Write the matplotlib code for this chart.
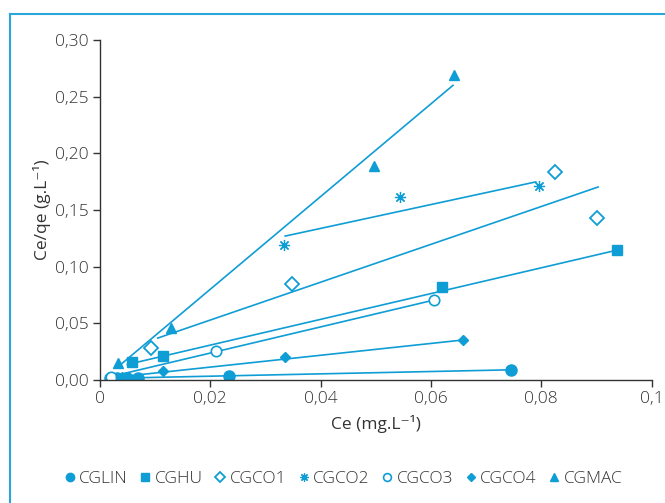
import numpy as np
import matplotlib.pyplot as plt
from matplotlib.lines import Line2D
from matplotlib.ticker import FuncFormatter

plt.rcParams['font.family'] = ['Open Sans', 'DejaVu Sans']
plt.rcParams['font.weight'] = 'light'

BLUE = '#0f9dd5'

# measured points (Ce, Ce/qe)
lin_x = [0.0018, 0.0031, 0.0049, 0.0069, 0.0234, 0.0745]
lin_y = [0.0020, 0.0020, 0.0020, 0.0022, 0.0035, 0.0088]
hu_x = [0.0058, 0.0115, 0.0620, 0.0938]
hu_y = [0.0160, 0.0212, 0.0823, 0.1147]
co1_x = [0.0093, 0.0349, 0.0825, 0.0901]
co1_y = [0.0285, 0.0847, 0.1836, 0.1430]
co2_x = [0.0334, 0.0544, 0.0796]
co2_y = [0.1190, 0.1615, 0.1710]
co3_x = [0.0020, 0.0210, 0.0606]
co3_y = [0.0026, 0.0256, 0.0706]
co4_x = [0.0040, 0.0114, 0.0336, 0.0658]
co4_y = [0.0030, 0.0079, 0.0203, 0.0353]
mac_x = [0.0033, 0.0129, 0.0496, 0.0642]
mac_y = [0.0150, 0.0460, 0.1890, 0.2690]

# fitted lines (start, end)
fit_lin = ([0.0020, 0.0745], [0.0015, 0.0090])
fit_hu = ([0.0050, 0.0938], [0.0137, 0.1147])
fit_co1 = ([0.0105, 0.0903], [0.0370, 0.1703])
fit_co2 = ([0.0336, 0.0790], [0.1270, 0.1748])
fit_co3 = ([0.0020, 0.0606], [0.0030, 0.0706])
fit_co4 = ([0.0030, 0.0658], [0.0025, 0.0353])
fit_mac = ([0.0040, 0.0640], [0.0145, 0.2600])

series = [
    ('CGLIN', lin_x, lin_y, fit_lin, dict(marker='o', ms=8)),
    ('CGHU', hu_x, hu_y, fit_hu, dict(marker='s', ms=7.5)),
    ('CGCO1', co1_x, co1_y, fit_co1, dict(marker='D', ms=7, mfc='white', mew=1.3)),
    ('CGCO2', co2_x, co2_y, fit_co2, dict(marker=(8, 2, 0), ms=8, mew=0.9)),
    ('CGCO3', co3_x, co3_y, fit_co3, dict(marker='o', ms=7.5, mfc='white', mew=1.2)),
    ('CGCO4', co4_x, co4_y, fit_co4, dict(marker='D', ms=5.5)),
    ('CGMAC', mac_x, mac_y, fit_mac, dict(marker='^', ms=7.5)),
]

fig = plt.figure(figsize=(6.65, 5.03), dpi=100)
ax = fig.add_axes([0.150, 0.2445, 0.830, 0.676])

handles = []
for name, x, y, fit, style in series:
    ax.plot(fit[0], fit[1], color=BLUE, lw=1.2)
    ax.plot(x, y, ls='none', color=BLUE, mec=BLUE, **style)
    hs = dict(style)
    hs['ms'] = style['ms'] * 0.75
    handles.append(Line2D([], [], ls='none', color=BLUE, mec=BLUE, label=name, **hs))

ax.set_xlim(0, 0.1)
ax.set_ylim(0, 0.30)
ax.set_xticks([0, 0.02, 0.04, 0.06, 0.08, 0.1])
ax.set_yticks(np.arange(0, 0.301, 0.05))


def xfmt(v, pos):
    if abs(v) < 1e-9:
        return '0'
    if abs(v - 0.1) < 1e-9:
        return '0,1'
    return ('%.2f' % v).replace('.', ',')


ax.xaxis.set_major_formatter(FuncFormatter(xfmt))
ax.yaxis.set_major_formatter(FuncFormatter(lambda v, p: ('%.2f' % v).replace('.', ',')))
ax.spines['top'].set_visible(False)
ax.spines['right'].set_visible(False)
for s in ('left', 'bottom'):
    ax.spines[s].set_color('#333333')
    ax.spines[s].set_linewidth(1.0)
ax.tick_params(direction='out', length=5, width=1.0, color='#333333',
               labelsize=12.5, labelcolor='#333333', pad=3)
ax.set_xlabel('Ce (mg.L\u207b\u00b9)', fontsize=12.5, color='#333333', labelpad=6)
ax.set_ylabel('Ce/qe (g.L\u207b\u00b9)', fontsize=12.5, color='#333333', labelpad=3)

fig.legend(handles=handles, loc='center', bbox_to_anchor=(0.515, 0.048), ncol=7,
           frameon=False, fontsize=12.5, handlelength=0.8, handletextpad=0.15,
           columnspacing=0.6, labelcolor='#333333')

# frame around the figure (only top and left show)
fig.add_artist(Line2D([10 / 665, 1.0], [1 - 14 / 503, 1 - 14 / 503],
                      transform=fig.transFigure, color='#2aa7d9', lw=1.5))
fig.add_artist(Line2D([10 / 665, 10 / 665], [0, 1 - 14 / 503],
                      transform=fig.transFigure, color='#2aa7d9', lw=1.5))

fig.savefig('out.png', dpi=100)
